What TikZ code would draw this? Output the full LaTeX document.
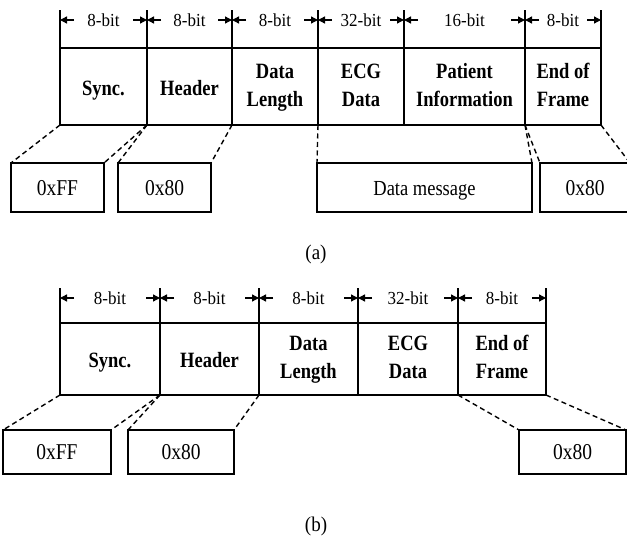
\documentclass[tikz,border=0pt]{standalone}
\usepackage{fontspec}
\usepackage{graphicx}
\setmainfont{Liberation Serif}
\usetikzlibrary{arrows.meta,calc}
\tikzset{
  field/.style={draw, line width=1.6pt, outer sep=0pt, inner sep=0pt,
    font=\fontsize{18.5}{24}\selectfont\bfseries, anchor=north west},
  valbox/.style={draw, line width=1.7pt, outer sep=0pt, inner sep=0pt,
    text height=15pt, text depth=0pt,
    font=\fontsize{19.5}{22}\selectfont, anchor=north west},
  tick/.style={line width=1.3pt},
  dimarrow/.style={line width=1.3pt, -{Triangle[length=7pt,width=7pt]}},
  bitlabel/.style={font=\fontsize{17}{20}\selectfont, inner sep=0pt},
  link/.style={line width=1.4pt, dash pattern=on 5pt off 3.5pt},
  caption/.style={font=\fontsize{19}{22}\selectfont, inner sep=0pt}
}
% stretched field caption, one or more centred lines
\newcommand\ftext[1]{\scalebox{1}[1.18]{\begin{tabular}{@{}c@{}}#1\end{tabular}}}
% single-line field caption, set a little lower (box size kept)
\newcommand\fone[1]{\raisebox{-3pt}[\height][\depth]{\ftext{#1}}}
% stretched value text
\newcommand\vtext[1]{\scalebox{1}[1.16]{#1}}
% width markers above a field: two arrows pointing at its borders and the bit count
\newcommand\bitspan[3]{%
  \draw[dimarrow] ($(#1.north west)+(14,-#2)$) -- ($(#1.north west)+(0,-#2)$);
  \draw[dimarrow] ($(#1.north east)+(-14,-#2)$) -- ($(#1.north east)+(0,-#2)$);
  \node[bitlabel] at ($(#1.north)+(0,-#2)$) {\scalebox{1}[1.08]{#3}};}

\begin{document}
\begin{tikzpicture}[x=1pt,y=-1pt]
\useasboundingbox (0,0) rectangle (627,538);

% ---------- frame (a) ----------
\node[field, minimum width=87pt,  minimum height=77pt] (sA) at (60,48)  {\fone{Sync.}};
\node[field, minimum width=85pt,  minimum height=77pt] (hA) at (147,48) {\fone{Header}};
\node[field, minimum width=86pt,  minimum height=77pt] (lA) at (232,48) {\ftext{Data\\Length}};
\node[field, minimum width=86pt,  minimum height=77pt] (eA) at (318,48) {\ftext{ECG\\Data}};
\node[field, minimum width=121pt, minimum height=77pt] (pA) at (404,48) {\ftext{Patient\\Information}};
\node[field, minimum width=76pt,  minimum height=77pt] (fA) at (525,48) {\ftext{End of\\Frame}};

\foreach \f in {sA,hA,lA,eA,pA,fA} \draw[tick] (\f.north west) -- ++(0,-38);
\draw[tick] (fA.north east) -- ++(0,-38);

\bitspan{sA}{28}{8-bit}
\bitspan{hA}{28}{8-bit}
\bitspan{lA}{28}{8-bit}
\bitspan{eA}{28}{32-bit}
\bitspan{pA}{28}{16-bit}
\bitspan{fA}{28}{8-bit}

\node[valbox, minimum width=93pt,  minimum height=49pt] (vsA) at (11,163)  {\vtext{0xFF}};
\node[valbox, minimum width=93pt,  minimum height=49pt] (vhA) at (118,163) {\vtext{0x80}};
\node[valbox, minimum width=215pt, minimum height=49pt, font=\fontsize{18.5}{22}\selectfont] (vmA) at (317,163) {\vtext{Data message}};
\node[valbox, minimum width=90pt,  minimum height=49pt] (vfA) at (540,163) {\vtext{0x80}};

\draw[link] (sA.south west) -- (vsA.north west);
\draw[link] (sA.south east) -- (vsA.north east);
\draw[link] (hA.south west) -- (vhA.north west);
\draw[link] (hA.south east) -- (vhA.north east);
\draw[link] (eA.south west) -- (vmA.north west);
\draw[link] (fA.south west) -- (vmA.north east);
\draw[link] (fA.south west) -- (vfA.north west);
\draw[link] (fA.south east) -- (vfA.north east);

\node[caption] (capA) at (316,254) {\scalebox{1}[1.1]{(a)}};

% ---------- frame (b) ----------
\node[field, minimum width=100pt, minimum height=72pt] (sB) at (60,323)  {\fone{Sync.}};
\node[field, minimum width=99pt,  minimum height=72pt] (hB) at (160,323) {\fone{Header}};
\node[field, minimum width=99pt,  minimum height=72pt] (lB) at (259,323) {\ftext{Data\\Length}};
\node[field, minimum width=100pt, minimum height=72pt] (eB) at (358,323) {\ftext{ECG\\Data}};
\node[field, minimum width=88pt,  minimum height=72pt] (fB) at (458,323) {\ftext{End of\\Frame}};

\foreach \f in {sB,hB,lB,eB,fB} \draw[tick] (\f.north west) -- ++(0,-35);
\draw[tick] (fB.north east) -- ++(0,-35);

\bitspan{sB}{25}{8-bit}
\bitspan{hB}{25}{8-bit}
\bitspan{lB}{25}{8-bit}
\bitspan{eB}{25}{32-bit}
\bitspan{fB}{25}{8-bit}

\node[valbox, minimum width=108pt, minimum height=44pt] (vsB) at (3,430)   {\vtext{0xFF}};
\node[valbox, minimum width=106pt, minimum height=44pt] (vhB) at (128,430) {\vtext{0x80}};
\node[valbox, minimum width=107pt, minimum height=44pt] (vfB) at (519,430) {\vtext{0x80}};

\draw[link] (sB.south west) -- (vsB.north west);
\draw[link] (sB.south east) -- (vsB.north east);
\draw[link] (hB.south west) -- (vhB.north west);
\draw[link] (hB.south east) -- (vhB.north east);
\draw[link] (fB.south west) -- (vfB.north west);
\draw[link] (fB.south east) -- (vfB.north east);

\node[caption] (capB) at (316,526) {\scalebox{1}[1.1]{(b)}};
\end{tikzpicture}
\end{document}
